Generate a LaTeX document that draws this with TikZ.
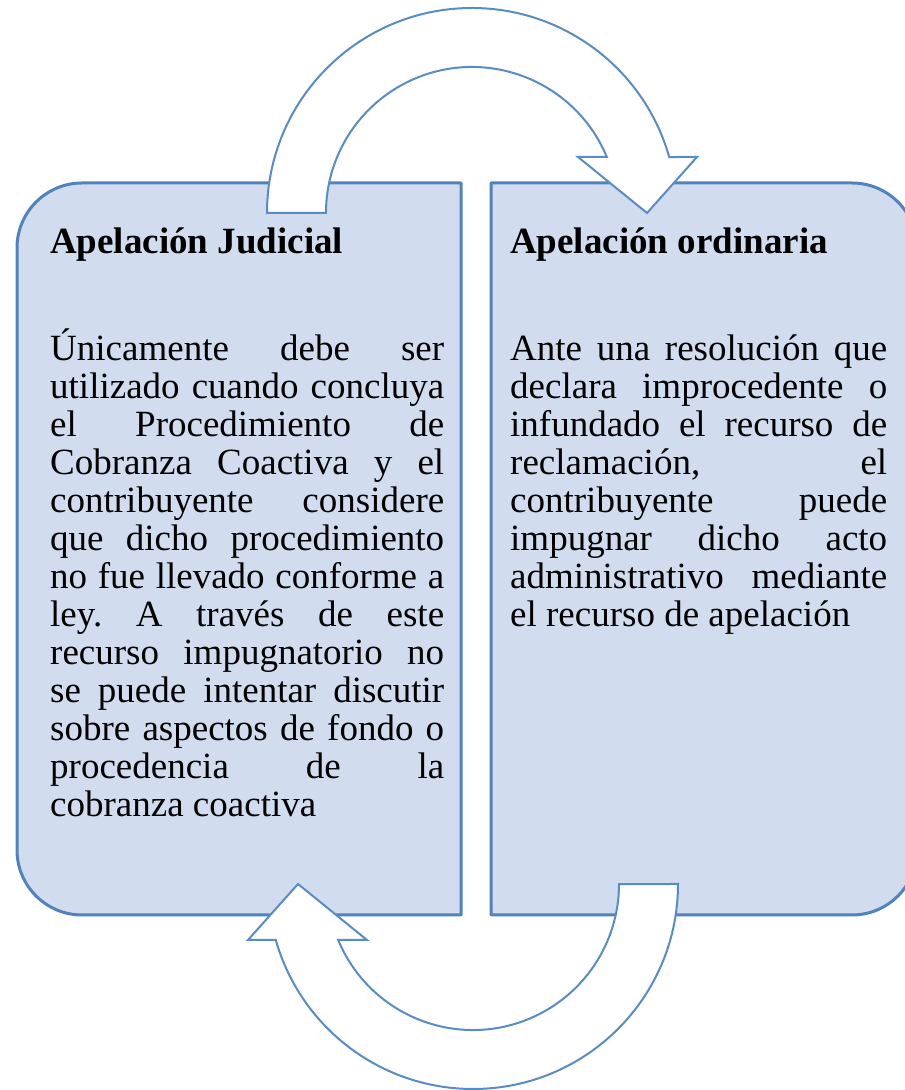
\documentclass[tikz,border=0pt]{standalone}
\usepackage{fontspec}
\setmainfont{Liberation Serif}
\definecolor{boxfill}{RGB}{209,221,238}
\definecolor{boxedge}{RGB}{80,130,190}
\definecolor{arrowedge}{RGB}{88,140,198}
\tolerance=10000
\hbadness=10000
\hyphenpenalty=10000
\frenchspacing
\tikzset{
  box/.style={fill=boxfill, draw=boxedge, line width=3pt, line join=round},
  turn/.style={fill=white, draw=arrowedge, line width=2pt, line join=miter},
  heading/.style={inner sep=0pt, anchor=base west, font=\fontsize{37}{38}\selectfont\bfseries},
  bodytext/.style={inner sep=0pt, anchor=base west, align=justify, font=\fontsize{37}{38}\selectfont}
}
\begin{document}
\begin{tikzpicture}[x=1pt, y=1pt]
  \useasboundingbox (0,0) rectangle (905,1090);
  % the two boxes
  \draw[box] (461,175) -- (461,907) -- (82,907) arc[start angle=90, end angle=180, radius=65]
    -- (17,240) arc[start angle=180, end angle=270, radius=65] -- cycle;
  \draw[box] (491,907) -- (491,175) -- (852,175) arc[start angle=-90, end angle=0, radius=65]
    -- (917,842) arc[start angle=0, end angle=90, radius=65] -- cycle;
  % curved arrows, the lower one is the upper one turned round
  \foreach \ang in {0,180}
    \draw[turn, rotate around={\ang:(472.5,541.5)}] (267,877) arc[start angle=180, end angle=15.85, radius=205]
      -- (697,933) -- (647,877) -- (578,933) -- (606.8,933)
      arc[start angle=22.55, end angle=180, radius=146] -- cycle;
  % texts
  \node[heading] (titleL) at (50,836) {Apelación Judicial};
  \node[bodytext, text width=394pt] (bodyL) at (50,729) {Únicamente debe ser\linebreak
    utilizado cuando concluya\linebreak el Procedimiento de\linebreak
    Cobranza Coactiva y el\linebreak contribuyente considere\linebreak
    que dicho procedimiento\linebreak no fue llevado conforme a\linebreak
    ley. A través de este\linebreak recurso impugnatorio no\linebreak
    se puede intentar discutir\linebreak sobre aspectos de fondo o\linebreak
    procedencia de la\linebreak cobranza coactiva};
  \node[heading] (titleR) at (510,836) {Apelación ordinaria};
  \node[bodytext, text width=377pt] (bodyR) at (510,729) {Ante una resolución que\linebreak
    declara improcedente o\linebreak infundado el recurso de\linebreak
    reclamación, el\linebreak contribuyente puede\linebreak
    impugnar dicho acto\linebreak administrativo mediante\linebreak
    el recurso de apelación};
\end{tikzpicture}
\end{document}
